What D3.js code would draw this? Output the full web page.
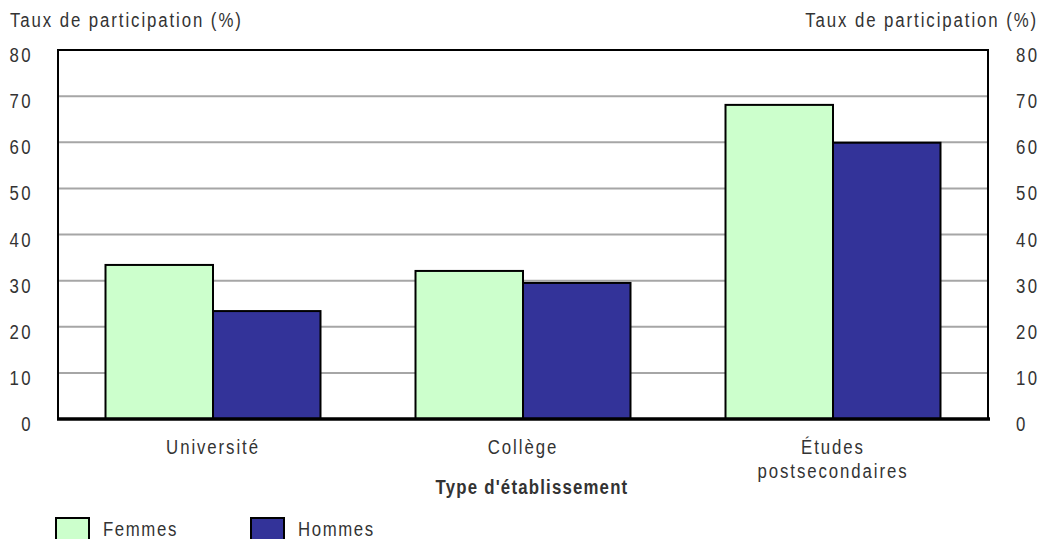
<!DOCTYPE html>
<html>
<head>
<meta charset="utf-8">
<script src="https://cdn.jsdelivr.net/npm/d3@7"></script>
<style>
  body { margin: 0; background: #fff; }
  svg text { font-family: "Liberation Sans", Arial, sans-serif; fill: #333; }
</style>
</head>
<body>
<svg id="chart" width="1041" height="539"></svg>
<script>
// Taux de participation par type d'établissement et par sexe
const categories = ["Université", "Collège", "Études postsecondaires"];
const categoryLines = [["Université"], ["Collège"], ["Études", "postsecondaires"]];
const seriesNames = ["Femmes", "Hommes"];
const femmes = [33.4, 32.1, 68.1];
const hommes = [23.4, 29.5, 59.9];
const yTicks = [0, 10, 20, 30, 40, 50, 60, 70, 80];
const colors = ["#ccffcc", "#333399"];

// condensed lettering: regular face squeezed horizontally
const FS = 21, SX = 0.8, LS = 2.4;

const svg = d3.select("#chart");
const plotLeft = 58, plotRight = 988, plotTop = 50, plotBottom = 419;

const x0 = d3.scaleBand().domain(categories).range([plotLeft, plotRight])
  .paddingInner(0.3065).paddingOuter(0.15325);
const x1 = d3.scaleBand().domain(seriesNames).range([0, x0.bandwidth()]);
const y = d3.scaleLinear().domain([0, 80]).range([plotBottom, plotTop]);

function label(parent, x, yPos, str, opts = {}) {
  return parent.append("text")
    .attr("transform", `translate(${x},${yPos}) scale(${SX},1)`)
    .attr("text-anchor", opts.anchor || "start")
    .attr("font-size", FS)
    .attr("font-weight", opts.bold ? "bold" : null)
    .attr("letter-spacing", opts.ls != null ? opts.ls : LS)
    .text(str);
}

// horizontal gridlines
svg.append("g").selectAll("line").data(yTicks.filter(d => d > 0 && d < 80)).join("line")
  .attr("x1", plotLeft).attr("x2", plotRight)
  .attr("y1", d => y(d)).attr("y2", d => y(d))
  .attr("stroke", "#a6a6a6").attr("stroke-width", 2);

// bars
const rows = categories.map((c, i) => ({ cat: c, vals: [femmes[i], hommes[i]] }));
const groups = svg.append("g").selectAll("g").data(rows).join("g")
  .attr("transform", d => `translate(${x0(d.cat)},0)`);
groups.selectAll("rect").data(d => d.vals.map((v, j) => ({ name: seriesNames[j], v, j }))).join("rect")
  .attr("x", d => x1(d.name))
  .attr("width", x1.bandwidth())
  .attr("y", d => y(d.v))
  .attr("height", d => y(0) - y(d.v))
  .attr("fill", d => colors[d.j])
  .attr("stroke", "#000").attr("stroke-width", 2);

// frame
svg.append("line").attr("x1", plotLeft).attr("x2", plotRight).attr("y1", plotTop).attr("y2", plotTop)
  .attr("stroke", "#000").attr("stroke-width", 2);
svg.append("line").attr("x1", plotLeft).attr("x2", plotLeft).attr("y1", plotTop - 1).attr("y2", plotBottom)
  .attr("stroke", "#000").attr("stroke-width", 2);
svg.append("line").attr("x1", plotRight).attr("x2", plotRight).attr("y1", plotTop - 1).attr("y2", plotBottom)
  .attr("stroke", "#000").attr("stroke-width", 2);
svg.append("line").attr("x1", plotLeft - 1).attr("x2", plotRight + 2).attr("y1", plotBottom).attr("y2", plotBottom)
  .attr("stroke", "#000").attr("stroke-width", 3.5);

// y axes (left and right)
const gL = svg.append("g").attr("transform", `translate(33,4)`)
  .call(d3.axisLeft(y).tickValues(yTicks).tickSize(0).tickPadding(0));
const gR = svg.append("g").attr("transform", `translate(1016,4)`)
  .call(d3.axisRight(y).tickValues(yTicks).tickSize(0).tickPadding(0));
[gL, gR].forEach(g => {
  g.attr("font-family", null).attr("font-size", null);
  g.select(".domain").remove();
  g.selectAll("text").attr("font-size", FS).attr("letter-spacing", 3)
    .attr("transform", `scale(${SX},1)`)
    .attr("dy", "0.36em").attr("fill", "#333");
});
gR.selectAll("text").attr("text-anchor", "start");

// axis titles
label(svg, 10, 27, "Taux de participation (%)");
label(svg, 1038, 27, "Taux de participation (%)", { anchor: "end" });

// category labels
categories.forEach((c, i) => {
  const cx = x0(c) + x0.bandwidth() / 2;
  const t = label(svg, cx, 454, null, { anchor: "middle" });
  t.selectAll("tspan").data(categoryLines[i]).join("tspan")
    .attr("x", 0)
    .attr("dy", (s, k) => k === 0 ? 0 : 24)
    .text(s => s);
});

label(svg, 532, 494, "Type d'établissement", { anchor: "middle", bold: true, ls: 1.5 });

// legend
const legendX = [56, 251];
seriesNames.forEach((name, i) => {
  svg.append("rect").attr("x", legendX[i]).attr("y", 518).attr("width", 33).attr("height", 30)
    .attr("fill", colors[i]).attr("stroke", "#000").attr("stroke-width", 2);
  label(svg, legendX[i] + 47, 536, name, { ls: 2.0 });
});
</script>
</body>
</html>
